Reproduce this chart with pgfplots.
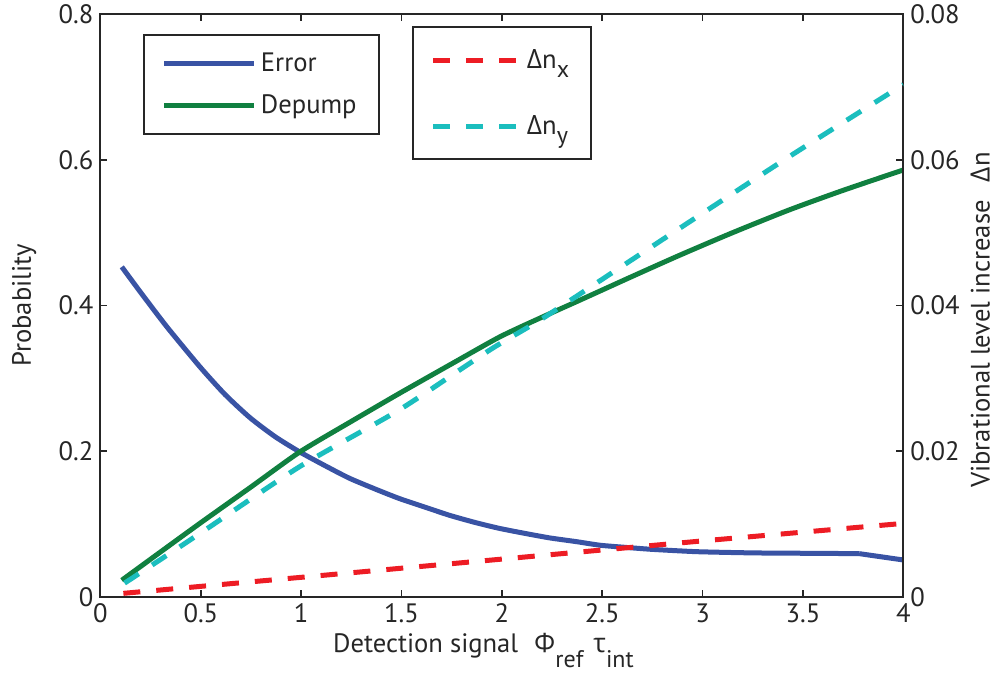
\documentclass[border=0pt]{standalone}
\usepackage{fontspec}
\setmainfont{PT Sans}
\newfontfamily\gr{Open Sans}
\usepackage{pgfplots}
\pgfplotsset{compat=1.18}
\definecolor{cblue}{RGB}{57,83,164}
\definecolor{cgreen}{RGB}{16,128,64}
\definecolor{cred}{RGB}{237,28,36}
\definecolor{ccyan}{RGB}{27,190,190}
\newcommand{\fs}{\fontsize{13.3}{16}\selectfont}
\newcommand{\fsub}{\fontsize{12}{14}\selectfont}
\pgfplotsset{
  common/.style={
    scale only axis, width=401.4pt, height=291.5pt,
    xmin=0, xmax=4,
    tick align=inside,
    major tick length=3.5pt,
    scaled ticks=false,
    axis line style={line width=1pt, black!85},
    tick style={line width=0.8pt, black!85},
    tick label style={font=\fs, black!85},
    label style={font=\fs, black!85},
    legend style={draw=black!85, line width=1pt, font=\fs, text=black!85,
       cells={anchor=west}},
    legend image code/.code={\draw[#1] (0pt,0pt) -- (45pt,0pt);},
  }
}
\begin{document}
\begin{tikzpicture}
\begin{axis}[common,
  ymin=0, ymax=0.8,
  xtick={0,0.5,1,1.5,2,2.5,3,3.5,4},
  xticklabels={0,0.5,1,1.5,2,2.5,3,3.5,4},
  ytick={0,0.2,0.4,0.6,0.8},
  yticklabels={0,0.2,0.4,0.6,0.8},
  xtick pos=both, ytick pos=left,
  xlabel={Detection signal\hspace{8pt}{\gr Φ}\raisebox{-7.5pt}{\fsub ref}\hspace{5pt}{\gr τ}\raisebox{-7.5pt}{\fsub int}},
  xlabel style={at={(axis description cs:0.477,0)}, anchor=base, yshift=-28pt},
  ylabel={Probability},
  ylabel style={at={(axis description cs:-0.095,0.5)}, anchor=center},
  legend style={at={(0.0529,0.9657)}, anchor=north west,
     inner xsep=9pt, inner ysep=7pt, row sep=6pt},
]
\addplot[cblue, line width=2.5pt, smooth, tension=0.4] coordinates {
(0.106,0.453) (0.2,0.418) (0.33,0.371) (0.495,0.316) (0.62,0.278) (0.745,0.246)
(0.87,0.220) (0.993,0.199) (1.12,0.180) (1.24,0.163) (1.37,0.148) (1.49,0.135)
(1.62,0.123) (1.74,0.112) (1.87,0.102) (1.99,0.094) (2.12,0.087) (2.24,0.081)
(2.37,0.076) (2.49,0.071) (2.62,0.068) (2.74,0.0655) (2.87,0.0635) (2.99,0.062)
(3.25,0.0605) (3.5,0.060) (3.78,0.0595)};
\addlegendentry{Error}
\addplot[cblue, line width=2.5pt, forget plot] coordinates {(3.78,0.0595) (4.0,0.0508)};
\addplot[cgreen, line width=2.5pt, smooth, tension=0.4] coordinates {
(0.106,0.023) (0.3,0.062) (0.495,0.101) (0.75,0.151) (0.993,0.199) (1.25,0.241)
(1.49,0.2795) (1.75,0.320) (1.99,0.357) (2.2,0.384) (2.39,0.4075) (2.65,0.440)
(2.886,0.469) (3.15,0.500) (3.43,0.531) (3.7,0.558) (4.0,0.586)};
\addlegendentry{Depump}
\end{axis}
\begin{axis}[common,
  ymin=0, ymax=0.08,
  axis x line=none, axis y line*=right,
  ytick={0,0.02,0.04,0.06,0.08},
  yticklabels={0,0.02,0.04,0.06,0.08},
  ytick pos=right,
  ylabel={Vibrational level increase\hspace{9pt}{\gr Δ}n},
  ylabel style={at={(axis description cs:1.096,0.475)}, anchor=center},
  legend style={at={(0.388,0.979)}, anchor=north west,
     inner xsep=9pt, inner ysep=9pt, row sep=18pt},
  legend image code/.code={\draw[#1] (0pt,0pt) -- (43.5pt,0pt);},
]
\addplot[cred, line width=2.5pt, dash pattern=on 8.5pt off 8pt] coordinates {
(0.114,0.0005) (1.0,0.0027) (2.0,0.0052) (3.0,0.0077) (4.0,0.0101)};
\addlegendentry{{\gr Δ}n\raisebox{-4.8pt}{\fsub x}}
\addplot[ccyan, line width=2.5pt, dash pattern=on 8.5pt off 8pt, smooth, tension=0.4] coordinates {
(0.12,0.0019) (0.5,0.0088) (0.993,0.0179) (1.49,0.0257) (1.94,0.0339) (2.19,0.0380)
(2.5,0.0436) (2.886,0.0506) (3.43,0.0604) (3.93,0.0691) (4.0,0.0703)};
\addlegendentry{{\gr Δ}n\raisebox{-4.8pt}{\fsub y}}
\end{axis}
\pgfresetboundingbox
\path[use as bounding box] (current axis.south west) ++(-50.25pt,-40pt) rectangle ([shift={(48.35pt,7pt)}]current axis.north east);
\end{tikzpicture}
\end{document}
